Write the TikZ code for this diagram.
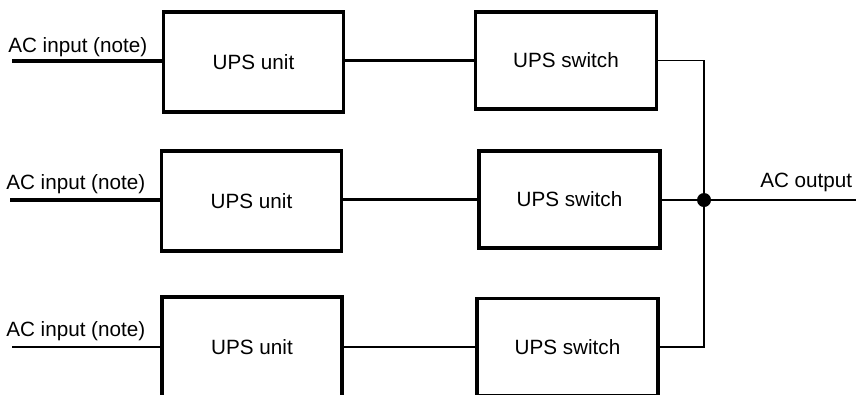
\documentclass[tikz,border=0pt]{standalone}
\usepackage{fontspec}
\setmainfont{Liberation Sans}
\begin{document}
\begin{tikzpicture}[x=0.75pt,y=-0.75pt,
  font=\fontsize{15.5}{18}\selectfont,
  unitbox/.style={draw,line width=2.6pt,minimum width=135pt,minimum height=75pt,inner sep=0pt},
  switchbox/.style={draw,line width=2.6pt,minimum width=136pt,minimum height=73pt,inner sep=0pt},
  heavy/.style={line width=2.6pt},
  medium/.style={line width=1.7pt},
  light/.style={line width=1.2pt},
  lbl/.style={anchor=base west,inner sep=0pt}]
\useasboundingbox (0,0) rectangle (856,394);

% UPS units
\node[unitbox] (U1) at (253.5,62) {UPS unit};
\node[unitbox] (U2) at (251.5,201) {UPS unit};
\node[unitbox] (U3) at (252,347) {UPS unit};

% UPS static switches
\node[switchbox] (S1) at (566,60.5) {UPS switch};
\node[switchbox] (S2) at (569.5,199.5) {UPS switch};
\node[switchbox] (S3) at (567.5,347) {UPS switch};

% input feeds
\coordinate (I1) at (12,61);
\coordinate (I2) at (10,200);
\coordinate (I3) at (12,347);
\node[lbl] (L1) at (8,52) {AC input (note)};
\node[lbl] (L2) at (6,189) {AC input (note)};
\node[lbl] (L3) at (6,336) {AC input (note)};
\draw[heavy] (I1) -- (I1 -| U1.west);
\draw[heavy] (I2) -- (I2 -| U2.west);
\draw[medium] (I3) -- (I3 -| U3.west);

% unit to switch
\draw[heavy] (S1.west -| U1.east) -- (S1.west);
\draw[heavy] (S2.west -| U2.east) -- (S2.west);
\draw[medium] (U3.east) -- (S3.west);

% common output bus
\coordinate (J) at (704,200);
\coordinate (O) at (856,200);
\draw[light] (S1.east) -| (J);
\draw[light] (S3.east) -| (J);
\draw[medium] (S2.east |- J) -- (J) -- (O);
\fill (J) circle (7);
\node[lbl] (LO) at (760,187) {AC output};
\end{tikzpicture}
\end{document}
